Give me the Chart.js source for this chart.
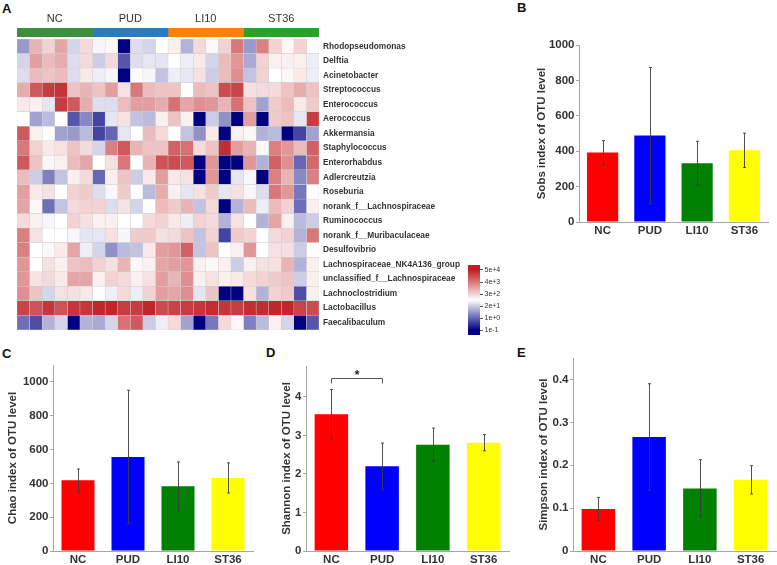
<!DOCTYPE html>
<html>
<head>
<meta charset="utf-8">
<script src="https://cdn.jsdelivr.net/npm/chart.js@4/dist/chart.umd.min.js"></script>
<style>
  html, body { margin: 0; padding: 0; background: #fff; }
  body { width: 777px; height: 565px; position: relative; overflow: hidden; font-family: "Liberation Sans", Arial, sans-serif; }
  .box { position: absolute; }
  .tag { position: absolute; font-weight: bold; font-size: 13px; line-height: 15px; color: #111; }
</style>
</head>
<body>
<div class="tag" style="left:2px;top:1px">A</div>
<div class="tag" style="left:517px;top:0px">B</div>
<div class="tag" style="left:2px;top:346px">C</div>
<div class="tag" style="left:266px;top:345px">D</div>
<div class="tag" style="left:517px;top:345px">E</div>

<div class="box" style="left:17px;top:8px;width:302px;height:29px"><canvas id="groupBar"></canvas></div>
<div class="box" style="left:17px;top:39px;width:449px;height:291px"><canvas id="heat"></canvas></div>
<div class="box" style="left:468px;top:265px;width:40px;height:70px"><canvas id="heatLegend"></canvas></div>
<div class="box" style="left:533px;top:33px;width:244px;height:207px"><canvas id="sobs"></canvas></div>
<div class="box" style="left:4px;top:353px;width:253px;height:212px"><canvas id="chao"></canvas></div>
<div class="box" style="left:278px;top:354px;width:235px;height:211px"><canvas id="shannon"></canvas></div>
<div class="box" style="left:535px;top:346px;width:242px;height:219px"><canvas id="simpson"></canvas></div>

<script>
// groups / samples
const groups = ['NC', 'PUD', 'LI10', 'ST36'];
const samplesPerGroup = 6;

// heatmap rows (genus) and cell values (colour scale level, -3 navy .. 0 white .. +3 red)
const genera = [
  'Rhodopseudomonas', 'Delftia', 'Acinetobacter', 'Streptococcus', 'Enterococcus',
  'Aerococcus', 'Akkermansia', 'Staphylococcus', 'Enterorhabdus', 'Adlercreutzia',
  'Roseburia', 'norank_f__Lachnospiraceae', 'Ruminococcus', 'norank_f__Muribaculaceae',
  'Desulfovibrio', 'Lachnospiraceae_NK4A136_group', 'unclassified_f__Lachnospiraceae',
  'Lachnoclostridium', 'Lactobacillus', 'Faecalibaculum'
];
const heat = [
  [-1.2,1,0.6,1.2,-0.5,0.5, -0.1,0.1,-3,-0.4,-0.5,0, 0.2,-0.9,0.5,0.1,0.6,1.8, -1.2,1.7,0.6,0.1,0.6,0],
  [-0.5,1.3,0.9,1.1,-0.4,0.5, -0.6,0.5,-2,-0.4,-0.3,-0.3, 0,-0.2,0.3,-0.5,0.9,1.4, -1,0.6,0.2,0.2,0.2,-0.2],
  [-0.4,0.9,0.8,0.9,-0.4,0.3, -0.2,-0.1,-3,0,-0.1,-0.7, -0.2,-0.3,0.4,-0.6,0.9,1.5, -0.7,0.6,0,0.1,0.3,-0.2],
  [1.1,2.2,2.6,2.7,0.8,1.0, 0.8,1.3,0.4,1.8,0.9,0.8, 0.8,0,0.9,0.8,2.4,2.5, 0.4,0.5,0.5,0.8,1.1,0.8],
  [0.3,0.2,-0.3,2.6,2.2,1.1, -0.4,-0.4,0.9,1.3,1.3,1.1, 1.9,1.2,1.5,1.4,1.0,1.9, 0.8,-1.1,0.7,0.9,0.3,0.7],
  [0,-1.1,-0.8,0,-2,-1.4, -2.2,-0.3,0.4,-0.7,-0.8,0.2, 0.8,0.2,-3,-0.6,-1.3,-3, 1.3,-3,0.7,0.8,-0.3,2.6],
  [2.2,0.2,0,-1.1,-1.2,-0.8, -2.2,-1.8,-0.3,0,0.9,0.5, 0,-0.7,-1.3,0.3,-3,0.2, 0.1,-0.9,-0.8,-3,-2.2,-1.1],
  [1.8,0.6,0.3,0.4,0.8,0.5, -0.5,1.7,2.2,1.0,0.8,0.8, 2.1,1.9,0.5,0.8,2.8,1.3, 1.0,0.1,1.7,1.4,0.9,2.1],
  [2.2,0.8,-0.1,0.2,0.9,1.2, 0,0.4,1.8,0,1.0,2.3, 2.4,2.2,-3,1.4,-3,-3, 1.4,-0.9,2.1,1.5,-1.8,2.0],
  [0.9,-0.6,-1.5,-0.7,0.2,0.5, -1.8,0.2,0.8,-0.6,0.3,1.3, 0.3,0.4,-3,1.4,-3,-0.3, -0.1,-3,1.7,1.0,-1.4,1.7],
  [1.3,0.3,0.4,0,0.6,0.7, -0.4,-0.1,0.7,0,-0.8,1.1, 0.2,-0.3,0.4,0.7,-0.3,0.4, -0.1,-0.4,1.8,1.4,-1.6,0],
  [1.2,0.1,-1.7,-0.7,0.5,0.6, 0.6,-0.4,0.4,-0.5,0,0.9, 0.7,1.0,-0.7,0.5,-3,-0.9, 0.9,-0.2,0.9,0.6,-1.7,0.2],
  [0.5,0.2,-0.1,0,0.6,0.4, 0.2,0.2,0,0,0.5,0.6, 0.3,-0.2,0.6,0.5,-0.9,0.4, 0,-0.9,1.2,0.2,-0.8,-0.6],
  [1.7,0.4,0,0,-0.1,-0.3, -0.3,0.4,-0.1,0.7,0.7,0.4, 0.5,0.8,-0.7,0.6,-2.2,0.7, 0.6,0,0.5,0.6,-0.9,1.8],
  [1.7,0,0.1,0.3,1.2,-0.2, -0.5,-1.3,-0.8,-0.7,0.3,1.3, 1.4,2.1,-0.7,0.8,0,0.2, 1.4,0,0.4,0.4,-0.6,0],
  [1.4,0,0.4,0.2,0.8,0.9, 0.6,0.4,1.0,0.1,0.2,1.2, 1.3,1.4,0.2,0.1,0.2,-0.6, 0.2,0.4,0.4,1.0,-0.9,0.2],
  [1.4,0.4,0.5,0.3,1.2,1.2, 0.2,0.6,0.5,0.2,0.4,1.3, 1.0,1.5,0.2,0.4,0.2,0.3, 0.5,0.6,0.7,0.8,-0.6,0.2],
  [1.5,0.8,-0.5,0.4,0.4,0.3, 0,-0.2,0.5,-0.2,0.6,1.3, 1.2,1.5,-0.3,0.8,-3,-3, 0.4,-0.9,0.6,0.7,-2.1,0.2],
  [2.5,2.3,2.7,2.3,2.7,2.7, 2.9,2.9,2.6,2.6,2.9,2.4, 2.5,2.6,2.7,2.8,2.7,2.6, 2.8,2.8,2.9,2.9,2.5,2.4],
  [-1.7,-2.1,-0.9,-0.5,-3,-0.9, -1.0,-0.5,1.9,2.2,-0.6,-0.2, 0.5,-1.1,-3,-1.6,0.5,0.1, -1.5,-0.8,0.2,-0.5,-3,-2.0]
];
const legendLabels = ['1e-1', '1e+0', '2e+1', '3e+2', '4e+3', '5e+4'];
const legendPos = [0.5, 1.7, 2.9, 4.1, 5.3, 6.5];

// alpha diversity (mean, sd)
const sobsMean = [392, 488, 332, 405];
const sobsErr = [68, 385, 124, 97];
const chaoMean = [418, 556, 383, 432];
const chaoErr = [67, 395, 144, 89];
const shannonMean = [3.55, 2.20, 2.76, 2.81];
const shannonErr = [0.64, 0.60, 0.43, 0.21];
const simpsonMean = [0.098, 0.266, 0.146, 0.166];
const simpsonErr = [0.027, 0.124, 0.067, 0.033];

const countTicks = [0, 200, 400, 600, 800, 1000];
const shannonTicks = [0, 1, 2, 3, 4];
const simpsonTicks = [0, 0.1, 0.2, 0.3, 0.4];

const barColors = ['#ff0000', '#0000ff', '#008000', '#ffff00'];
const groupBarColors = ['#3d8f3d', '#2b7bbd', '#ff7f0e', '#2ca02c'];

const FAMILY = '"Liberation Sans", Arial, sans-serif';
Chart.defaults.font.family = FAMILY;
Chart.defaults.animation = false;
Chart.defaults.events = [];
Chart.defaults.plugins.legend.display = false;
Chart.defaults.plugins.tooltip.enabled = false;
Chart.defaults.maintainAspectRatio = false;

// navy - white - red
function heatColor(v) {
  v = Math.max(-3, Math.min(3, v));
  const navy = [0, 0, 128], white = [255, 255, 255], red = [190, 30, 35];
  let a, b, t;
  if (v < 0) { a = navy; b = white; t = (v + 3) / 3; }
  else { a = white; b = red; t = v / 3; }
  const c = a.map((x, i) => Math.round(x + (b[i] - x) * t));
  return 'rgb(' + c.join(',') + ')';
}

// keep label overhang from shrinking the plot area
function noPad(s) {
  s.paddingTop = 0; s.paddingBottom = 0; s.paddingLeft = 0; s.paddingRight = 0;
}

const nSamples = heat[0].length;

// group colour strip
new Chart(document.getElementById('groupBar'), {
  type: 'bar',
  data: {
    labels: [''],
    datasets: groups.map((g, i) => ({
      label: g, data: [samplesPerGroup], backgroundColor: groupBarColors[i],
      borderWidth: 0, barPercentage: 1, categoryPercentage: 1
    }))
  },
  options: {
    indexAxis: 'y',
    layout: { padding: 0 },
    scales: {
      x: {
        stacked: true, position: 'top', min: 0, max: nSamples,
        grid: { display: false, drawTicks: false, tickLength: 0 }, border: { display: false },
        afterBuildTicks: s => { s.ticks = groups.map((g, i) => ({ value: (i + 0.5) * samplesPerGroup })); },
        afterFit: s => { s.height = 20; noPad(s); },
        ticks: { padding: 2, autoSkip: false, maxRotation: 0, font: { size: 11 }, color: '#333',
                 callback: (v, i) => groups[i] }
      },
      y: { stacked: true, display: false }
    }
  }
});

// heatmap: one stacked horizontal bar per genus, one segment per sample
new Chart(document.getElementById('heat'), {
  type: 'bar',
  data: {
    labels: genera,
    datasets: heat[0].map((_, j) => ({
      data: genera.map(() => 1),
      backgroundColor: heat.map(row => heatColor(row[j])),
      borderColor: '#d0d0d0', borderWidth: 0.5, borderSkipped: false,
      barPercentage: 1, categoryPercentage: 1
    }))
  },
  options: {
    indexAxis: 'y',
    layout: { padding: 0 },
    scales: {
      x: { stacked: true, display: false, min: 0, max: nSamples },
      y: {
        stacked: true, position: 'right',
        grid: { display: false, drawTicks: false, tickLength: 0 }, border: { display: false },
        afterFit: s => { s.width = 147; noPad(s); },
        ticks: { padding: 4, autoSkip: false, font: { size: 8.3, weight: 'bold' }, color: '#333' }
      }
    }
  }
});

// colour key
new Chart(document.getElementById('heatLegend'), {
  type: 'bar',
  data: {
    labels: [''],
    datasets: [{
      data: [7],
      backgroundColor: ctx => {
        const area = ctx.chart.chartArea;
        if (!area) return heatColor(0);
        const g = ctx.chart.ctx.createLinearGradient(0, area.bottom, 0, area.top);
        g.addColorStop(0, heatColor(-3));
        g.addColorStop(0.5 / 7, heatColor(-3));
        g.addColorStop(3.5 / 7, heatColor(0));
        g.addColorStop(6.5 / 7, heatColor(3));
        g.addColorStop(1, heatColor(3));
        return g;
      },
      borderWidth: 0, barPercentage: 1, categoryPercentage: 1
    }]
  },
  options: {
    layout: { padding: 0 },
    scales: {
      x: { display: false },
      y: {
        position: 'right', min: 0, max: 7,
        afterBuildTicks: s => { s.ticks = legendPos.map(v => ({ value: v })); },
        afterFit: s => { s.width = 28; noPad(s); },
        grid: { display: true, drawOnChartArea: false, tickLength: 3, color: '#555' },
        border: { display: false },
        ticks: { padding: 1.5, font: { size: 7 }, color: '#333', callback: (v, i) => legendLabels[i] }
      }
    }
  }
});

function errorBars(err) {
  return {
    id: 'errbars',
    afterDatasetsDraw(chart) {
      const ctx = chart.ctx, y = chart.scales.y;
      const vals = chart.data.datasets[0].data;
      ctx.save();
      ctx.strokeStyle = '#3c3c3c';
      ctx.lineWidth = 0.9;
      chart.getDatasetMeta(0).data.forEach((bar, i) => {
        const x = Math.round(bar.x) + 0.5;
        const top = y.getPixelForValue(vals[i] + err[i]);
        const bot = y.getPixelForValue(vals[i] - err[i]);
        ctx.beginPath();
        ctx.moveTo(x, top); ctx.lineTo(x, bot);
        ctx.moveTo(x - 1.5, top); ctx.lineTo(x + 1.5, top);
        ctx.moveTo(x - 1.5, bot); ctx.lineTo(x + 1.5, bot);
        ctx.stroke();
      });
      ctx.restore();
    }
  };
}

// NC vs PUD significance bracket on Shannon
const sigPair = [0, 1];
const sigLevel = 4.48;
const sigDrop = 0.13;
const sigMark = '*';
const sigBracket = {
  id: 'sig',
  afterDatasetsDraw(chart) {
    const ctx = chart.ctx, y = chart.scales.y;
    const bars = chart.getDatasetMeta(0).data;
    const x1 = Math.round(bars[sigPair[0]].x) + 0.5, x2 = Math.round(bars[sigPair[1]].x) + 0.5;
    const yy = Math.round(y.getPixelForValue(sigLevel)) + 0.5;
    const yd = y.getPixelForValue(sigLevel - sigDrop);
    ctx.save();
    ctx.strokeStyle = '#555';
    ctx.lineWidth = 1;
    ctx.beginPath();
    ctx.moveTo(x1, yd); ctx.lineTo(x1, yy); ctx.lineTo(x2, yy); ctx.lineTo(x2, yd);
    ctx.stroke();
    ctx.fillStyle = '#222';
    ctx.font = 'bold 12px ' + FAMILY;
    ctx.textAlign = 'center';
    ctx.textBaseline = 'alphabetic';
    ctx.fillText(sigMark, (x1 + x2) / 2, yy);
    ctx.restore();
  }
};

function barPanel(id, title, mean, err, yMax, yTicks, yWidth, padRight, xHeight, extra) {
  const tickFont = { size: 11.5, weight: 'bold' };
  return new Chart(document.getElementById(id), {
    type: 'bar',
    data: {
      labels: groups,
      datasets: [{ data: mean, backgroundColor: barColors, borderWidth: 0, barPercentage: 0.66, categoryPercentage: 1 }]
    },
    options: {
      layout: { padding: { top: 12, right: padRight, bottom: 0, left: 0 } },
      scales: {
        x: {
          grid: { display: false, drawTicks: false, tickLength: 0 },
          border: { display: true, color: '#a6a6a6', width: 1 },
          afterFit: s => { s.height = xHeight; noPad(s); },
          ticks: { font: tickFont, color: '#333', padding: 2, maxRotation: 0 }
        },
        y: {
          min: 0, max: yMax,
          afterBuildTicks: s => { s.ticks = yTicks.map(v => ({ value: v })); },
          afterFit: s => { s.width = yWidth; noPad(s); },
          grid: { display: true, drawOnChartArea: false, tickLength: 3, color: '#a6a6a6' },
          border: { display: true, color: '#a6a6a6', width: 1 },
          ticks: { font: tickFont, color: '#333', padding: 1.5, callback: v => String(v) },
          title: { display: true, text: title, color: '#333', font: { size: 11.5, weight: 'bold' }, padding: { top: 2, bottom: 0 } }
        }
      }
    },
    plugins: [errorBars(err)].concat(extra || [])
  });
}

barPanel('sobs', 'Sobs index of OTU level', sobsMean, sobsErr, 1000, countTicks, 46, 9, 18);
barPanel('chao', 'Chao index of OTU level', chaoMean, chaoErr, 1100, countTicks, 49, 4, 14);
barPanel('shannon', 'Shannon index of OTU level', shannonMean, shannonErr, 4.8, shannonTicks, 28, 4, 14, [sigBracket]);
barPanel('simpson', 'Simpson index of OTU level', simpsonMean, simpsonErr, 0.45, simpsonTicks, 38, 1, 14);
</script>
</body>
</html>
